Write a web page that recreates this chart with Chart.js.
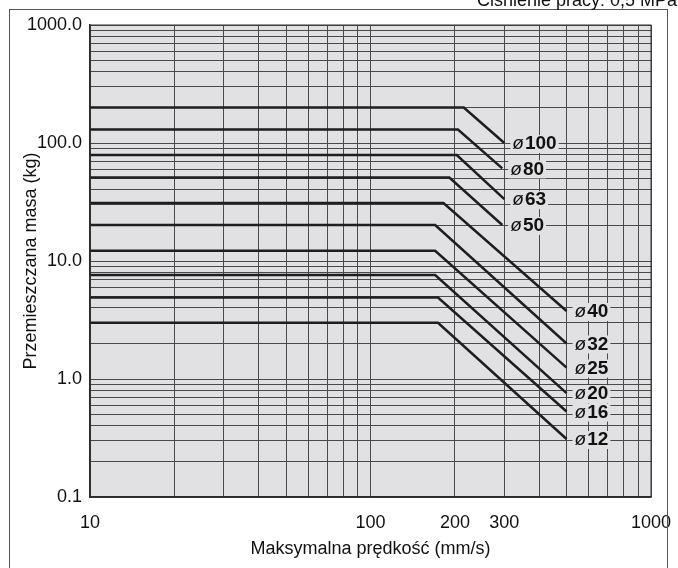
<!DOCTYPE html>
<html>
<head>
<meta charset="utf-8">
<script src="https://cdn.jsdelivr.net/npm/chart.js@4/dist/chart.umd.min.js"></script>
<style>
  html, body { margin: 0; padding: 0; background: #fff; }
  #wrap { width: 678px; height: 568px; position: relative; }
</style>
</head>
<body>
<div id="wrap"><canvas id="mass_chart"></canvas></div>
<script>
// bore sizes and their allowable mass curves
const diameters = ['100', '80', '63', '50', '40', '32', '25', '20', '16', '12'];
const flatMass = [200, 130, 79, 51, 31, 20.2, 12.2, 7.6, 4.9, 3.0];
const breakSpeed = [215, 205, 203, 191, 182, 170, 170, 170, 174, 174];
const endSpeed = [300, 295, 300, 295, 500, 500, 500, 500, 500, 500];
const endMass = [100, 61, 33.4, 20.2, 3.77, 2.0, 1.25, 0.76, 0.53, 0.31];

const xTicks = [10, 20, 30, 40, 50, 60, 70, 80, 90, 100, 200, 300, 400, 500, 600, 700, 800, 900, 1000];
const xLabels = { 10: '10', 100: '100', 200: '200', 300: '300', 1000: '1000' };
const yTicks = [];
[0.1, 1, 10, 100].forEach(d => { for (let k = 1; k < 10; k++) yTicks.push(+(d * k).toPrecision(3)); });
yTicks.push(1000);
const yLabels = { 0.1: '0.1', 1: '1.0', 10: '10.0', 100: '100.0', 1000: '1000.0' };

const plotBg = '#e1e1e3';
const fontName = "'Liberation Sans', Arial, sans-serif";

let datasets = diameters.map((d, i) => ({
  label: 'ø' + d,
  data: [
    { x: 10, y: flatMass[i] },
    { x: breakSpeed[i], y: flatMass[i] },
    { x: endSpeed[i], y: endMass[i] }
  ],
  showLine: true,
  borderColor: '#1e1e1e',
  borderWidth: 2.5,
  pointRadius: 0,
  tension: 0
}));

const decor = {
  id: 'decor',
  beforeDraw(chart) {
    const { ctx, chartArea: a } = chart;
    ctx.save();
    ctx.fillStyle = '#fff';
    ctx.fillRect(0, 0, chart.width, chart.height);
    ctx.fillStyle = plotBg;
    ctx.fillRect(a.left, a.top, a.right - a.left, a.bottom - a.top);
    ctx.restore();
  },
  afterDraw(chart) {
    const { ctx, chartArea: a } = chart;
    const xs = chart.scales.x, ys = chart.scales.y;
    ctx.save();
    // outer frame
    ctx.strokeStyle = '#555';
    ctx.lineWidth = 1;
    ctx.strokeRect(9.5, 9.5, 658, 570);
    // plot border top/right
    ctx.strokeStyle = '#333';
    ctx.strokeRect(a.left, a.top, a.right - a.left, a.bottom - a.top);
    // pressure note, cut at the top
    ctx.fillStyle = '#111';
    ctx.font = '18px ' + fontName;
    ctx.textAlign = 'right';
    ctx.textBaseline = 'alphabetic';
    ctx.fillText('Ciśnienie pracy: 0,5 MPa', 677, 6);
    // bore labels at line ends
    ctx.textBaseline = 'middle';
    ctx.textAlign = 'left';
    diameters.forEach((d, i) => {
      const px = xs.getPixelForValue(endSpeed[i]) + 8;
      const py = ys.getPixelForValue(endMass[i]) + 1;
      ctx.font = 'italic 19px ' + fontName;
      const w1 = ctx.measureText('ø').width;
      ctx.font = 'bold 19px ' + fontName;
      const w2 = ctx.measureText(d).width;
      ctx.fillStyle = plotBg;
      ctx.fillRect(px - 2, py - 9, w1 + w2 + 5, 18);
      ctx.fillStyle = '#111';
      ctx.font = 'italic 19px ' + fontName;
      ctx.fillText('ø', px, py);
      ctx.font = 'bold 19px ' + fontName;
      ctx.fillText(d, px + w1 + 1, py);
    });
    ctx.restore();
  }
};

new Chart('mass_chart', {
  type: 'scatter',
  data: { datasets: datasets },
  plugins: [decor],
  options: {
    responsive: true,
    maintainAspectRatio: false,
    animation: false,
    layout: { padding: { left: 20, top: 25, right: 27, bottom: 8 } },
    plugins: {
      legend: { display: false },
      title: { display: false },
      tooltip: { enabled: false }
    },
    scales: {
      x: {
        type: 'logarithmic',
        min: 10,
        max: 1000,
        afterBuildTicks: s => { s.ticks = xTicks.map(v => ({ value: v })); },
        afterFit: s => { s.height = 63; s.paddingLeft = 0; s.paddingRight = 0; },
        ticks: {
          autoSkip: false,
          maxRotation: 0,
          padding: 15,
          color: '#111',
          font: { family: fontName, size: 18 },
          callback: v => xLabels[v] || ''
        },
        grid: { color: '#4a4a4a', lineWidth: 1, drawTicks: false },
        border: { color: '#222', width: 1.5 },
        title: {
          display: true,
          text: 'Maksymalna prędkość (mm/s)',
          color: '#111',
          font: { family: fontName, size: 18 },
          padding: { top: 4, bottom: 0 }
        }
      },
      y: {
        type: 'logarithmic',
        min: 0.1,
        max: 1000,
        afterBuildTicks: s => { s.ticks = yTicks.map(v => ({ value: v })); },
        afterFit: s => { s.width = 70; s.paddingTop = 0; s.paddingBottom = 0; },
        ticks: {
          autoSkip: false,
          padding: 8,
          color: '#111',
          font: { family: fontName, size: 18 },
          callback: v => yLabels[v] || ''
        },
        grid: { color: '#4a4a4a', lineWidth: 1, drawTicks: false },
        border: { color: '#222', width: 1.5 },
        title: {
          display: true,
          text: 'Przemieszczana masa (kg)',
          color: '#111',
          font: { family: fontName, size: 18 },
          padding: { top: 0, bottom: 4 }
        }
      }
    }
  }
});
</script>
</body>
</html>
